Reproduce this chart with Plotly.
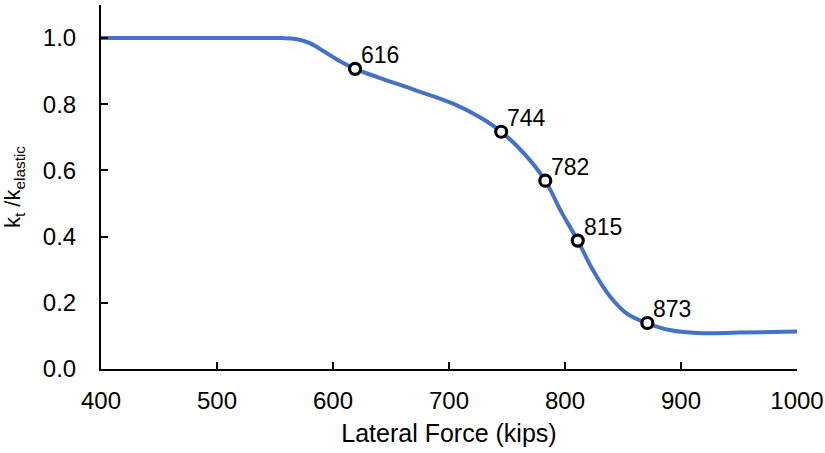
import plotly.graph_objects as go

# curve data
force = [400, 500, 556, 568, 580, 593, 606, 619, 640, 669, 704, 727, 745, 765, 783, 796, 811,
         824, 839, 853, 871, 890, 919, 950, 1000]
ratio = [1.0, 1.0, 1.0, 0.997, 0.985, 0.958, 0.930, 0.907, 0.880, 0.845, 0.801, 0.760, 0.717, 0.650,
         0.569, 0.48, 0.388, 0.299, 0.218, 0.168, 0.138, 0.118, 0.108, 0.110, 0.113]

# marked points
mark_x = [619, 745, 783, 811, 871]
mark_y = [0.907, 0.717, 0.569, 0.388, 0.139]
mark_labels = ["616", "744", "782", "815", "873"]

x_ticks = [400, 500, 600, 700, 800, 900, 1000]
y_ticks = [0.0, 0.2, 0.4, 0.6, 0.8, 1.0]

FONT = "Liberation Sans, Arial, sans-serif"

fig = go.Figure()
fig.add_trace(go.Scatter(
    x=force, y=ratio, mode="lines",
    line=dict(color="#4472C4", width=4, shape="spline", smoothing=1.0),
    hoverinfo="skip", showlegend=False))
fig.add_trace(go.Scatter(
    x=mark_x, y=mark_y, mode="markers",
    marker=dict(size=11, color="white", line=dict(color="black", width=3.2)),
    showlegend=False))

for mx, my, lab in zip(mark_x, mark_y, mark_labels):
    fig.add_annotation(x=mx, y=my, text=lab, showarrow=False,
                       xanchor="left", yanchor="middle", xshift=4, yshift=14,
                       font=dict(family=FONT, size=23, color="black"))

fig.update_layout(
    width=825, height=453,
    margin=dict(l=101, r=28, t=5, b=84),
    paper_bgcolor="white", plot_bgcolor="white",
    font=dict(family=FONT, size=23, color="black"),
    xaxis=dict(range=[400, 1000], tickvals=x_ticks, ticks="inside", ticklen=7,
               tickwidth=2, tickcolor="black", showline=True, linecolor="black",
               linewidth=2, showgrid=False, zeroline=False, automargin=False,
               tickfont=dict(size=24), ticklabelstandoff=9,
               title=dict(text="Lateral Force (kips)", font=dict(size=25), standoff=12)),
    yaxis=dict(range=[0, 1.1], tickvals=y_ticks, tickformat=".1f", ticks="inside",
               ticklen=7, tickwidth=2, tickcolor="black", showline=True,
               linecolor="black", linewidth=2, showgrid=False, zeroline=False,
               automargin=False,
               tickfont=dict(size=24), ticklabelstandoff=18,
               title=dict(text="k<sub>t</sub> /k<sub>elastic</sub>", font=dict(size=22),
                          standoff=18)),
)

fig.write_html("out.html")
